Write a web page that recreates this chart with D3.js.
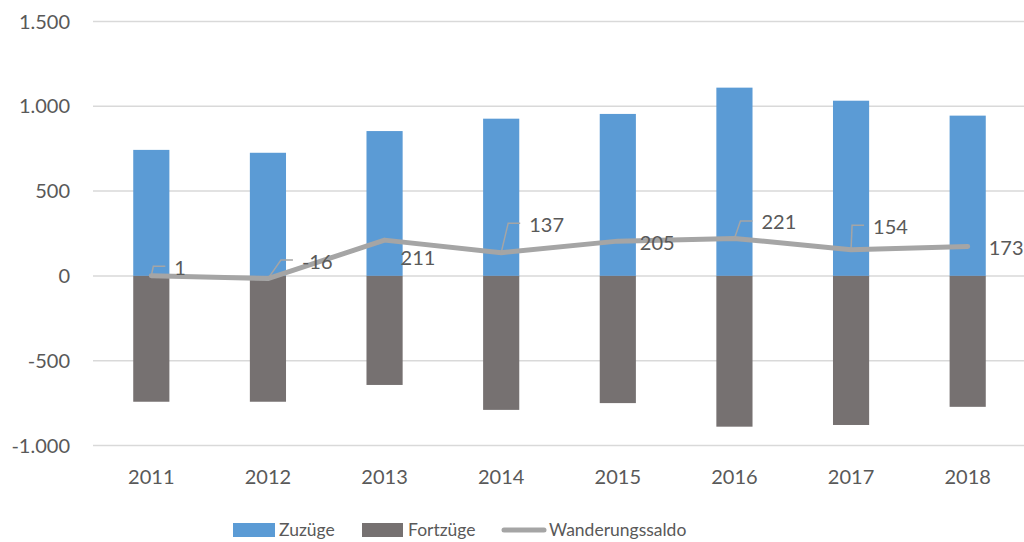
<!DOCTYPE html>
<html>
<head>
<meta charset="utf-8">
<title>Zuzüge / Fortzüge</title>
<script src="https://cdn.jsdelivr.net/npm/d3@7"></script>
<style>
  body { margin: 0; background: #fff; }
  svg text { font-family: Lato, "Open Sans", sans-serif; fill: #595959; }
  .grid line { stroke: #d9d9d9; stroke-width: 1.5px; }
</style>
</head>
<body>
<svg id="chart" width="1024" height="542"></svg>
<script>
// data
var years = ["2011", "2012", "2013", "2014", "2015", "2016", "2017", "2018"];
var zuzuege = [743, 726, 854, 927, 955, 1110, 1033, 945];
var fortzuege = [-742, -742, -643, -790, -750, -889, -879, -772];
var saldo = [1, -16, 211, 137, 205, 221, 154, 173];
var yTicks = [-1000, -500, 0, 500, 1000, 1500];

// where Excel put the saldo labels, offset from the point (px)
var labelDx = [23, 34, 16, 28, 22, 27, 22, 21];
var labelDy = [-8, -17, 18, -28, 2, -16, -23, 1];

var svg = d3.select("#chart");
var plotL = 93, plotR = 1026, plotT = 21.5, plotB = 445.5;

var x = d3.scaleBand().domain(years).range([plotL, plotR]).paddingInner(0.69).paddingOuter(0.345);
var y = d3.scaleLinear().domain([-1000, 1500]).range([plotB, plotT]);
var fmt = d3.formatLocale({ decimal: ",", thousands: ".", grouping: [3], currency: ["", "€"], minus: "-" }).format(",d");

// gridlines
svg.append("g").attr("class", "grid")
  .selectAll("line").data(yTicks).join("line")
  .attr("x1", plotL).attr("x2", plotR)
  .attr("y1", d => y(d)).attr("y2", d => y(d));

// y axis labels
svg.append("g").selectAll("text").data(yTicks).join("text")
  .attr("x", 70).attr("y", d => y(d)).attr("dy", "0.35em")
  .attr("text-anchor", "end").style("font-size", "20px")
  .text(d => fmt(d));

// bars
svg.append("g").selectAll("rect").data(years).join("rect")
  .attr("x", d => x(d)).attr("width", x.bandwidth())
  .attr("y", (d, i) => y(zuzuege[i])).attr("height", (d, i) => y(0) - y(zuzuege[i]))
  .attr("fill", "#5b9bd5");
svg.append("g").selectAll("rect").data(years).join("rect")
  .attr("x", d => x(d)).attr("width", x.bandwidth())
  .attr("y", y(0)).attr("height", (d, i) => y(fortzuege[i]) - y(0))
  .attr("fill", "#767171");

// x axis labels
svg.append("g").selectAll("text").data(years).join("text")
  .attr("x", d => x(d) + x.bandwidth() / 2).attr("y", 477).attr("dy", "0.35em")
  .attr("text-anchor", "middle").style("font-size", "20px")
  .text(d => d);

// saldo line
var cx = i => x(years[i]) + x.bandwidth() / 2;
var line = d3.line().x((d, i) => cx(i)).y(d => y(d));
svg.append("path").datum(saldo)
  .attr("d", line).attr("fill", "none")
  .attr("stroke", "#a5a5a5").attr("stroke-width", 5)
  .attr("stroke-linecap", "round").attr("stroke-linejoin", "round");

// leader lines + labels
var lab = svg.append("g");
saldo.forEach(function (v, i) {
  var px = cx(i), py = y(v);
  var tx = px + labelDx[i], ty = py + labelDy[i];
  if (labelDy[i] < -5) {
    lab.append("path")
      .attr("d", "M" + px + "," + py + "L" + (tx - 21) + "," + (ty - 1.5) + "H" + (tx - 9))
      .attr("fill", "none").attr("stroke", "#a5a5a5").attr("stroke-width", 1.5);
  }
  lab.append("text").attr("x", tx).attr("y", ty).attr("dy", "0.35em")
    .style("font-size", "20px").text(fmt(v));
});

// legend
var lg = svg.append("g");
lg.append("rect").attr("x", 233).attr("y", 523).attr("width", 42).attr("height", 14).attr("fill", "#5b9bd5");
lg.append("text").attr("x", 279).attr("y", 530).attr("dy", "0.35em").style("font-size", "17.5px").text("Zuzüge");
lg.append("rect").attr("x", 362).attr("y", 523).attr("width", 41).attr("height", 14).attr("fill", "#767171");
lg.append("text").attr("x", 408).attr("y", 530).attr("dy", "0.35em").style("font-size", "17.5px").text("Fortzüge");
lg.append("line").attr("x1", 504).attr("x2", 544).attr("y1", 530).attr("y2", 530)
  .attr("stroke", "#a5a5a5").attr("stroke-width", 5).attr("stroke-linecap", "round");
lg.append("text").attr("x", 549).attr("y", 530).attr("dy", "0.35em").style("font-size", "17.5px").text("Wanderungssaldo");
</script>
</body>
</html>
